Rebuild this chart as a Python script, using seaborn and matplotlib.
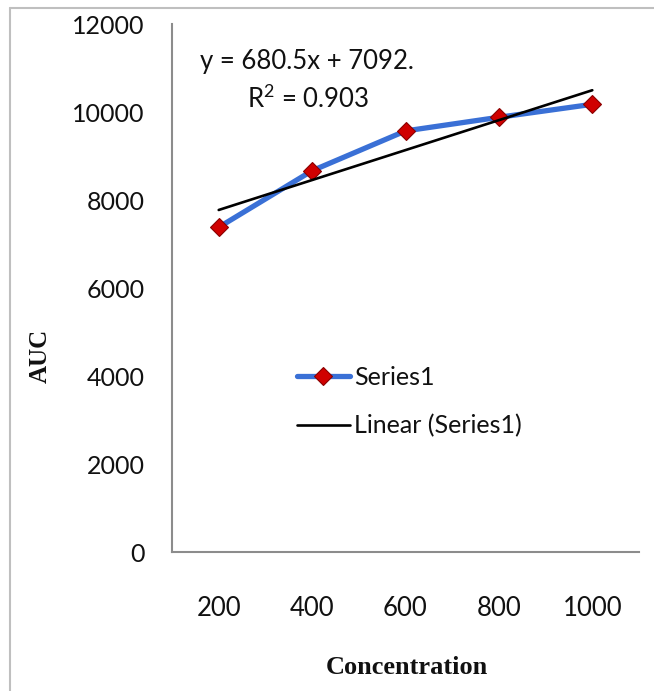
import numpy as np
import pandas as pd
import seaborn as sns
import matplotlib
matplotlib.use("Agg")
import matplotlib.pyplot as plt
from matplotlib.lines import Line2D
from matplotlib import font_manager

# Data
concentration = [200, 400, 600, 800, 1000]
auc = [7380, 8665, 9570, 9880, 10175]
y_ticks = [0, 2000, 4000, 6000, 8000, 10000, 12000]
series_name = "Series1"
trend_name = "Linear (Series1)"

df = pd.DataFrame({"Concentration": concentration, "AUC": auc})

# Linear trendline on the point index (1..n), spreadsheet style
idx = np.arange(1, len(auc) + 1)
slope, intercept = np.polyfit(idx, auc, 1)
fitted = slope * idx + intercept
ss_res = np.sum((np.array(auc) - fitted) ** 2)
ss_tot = np.sum((np.array(auc) - np.mean(auc)) ** 2)
r2 = 1 - ss_res / ss_tot

sns.set_style("white")
avail = {f.name for f in font_manager.fontManager.ttflist}
sans = "Lato" if "Lato" in avail else "DejaVu Sans"
plt.rcParams["font.family"] = [sans, "DejaVu Sans"]
plt.rcParams["mathtext.fontset"] = "custom"
plt.rcParams["mathtext.rm"] = sans

W, H = 654, 691
fig = plt.figure(figsize=(W / 100, H / 100), dpi=100)
fig.patch.set_facecolor("white")

left_px, right_px, top_px, bottom_px = 172, 639, 24, 552
ax = fig.add_axes([left_px / W, 1 - bottom_px / H,
                   (right_px - left_px) / W, (bottom_px - top_px) / H])

blue = "#3A70D6"
red = "#D00000"
txt = "#111111"

sns.lineplot(data=df, x="Concentration", y="AUC", ax=ax, color=blue,
             linewidth=3.8, marker="D", markersize=9,
             markerfacecolor=red, markeredgecolor="#8A0000",
             markeredgewidth=0.8, label=series_name, zorder=3)
sns.lineplot(x=concentration, y=fitted, ax=ax, color="black",
             linewidth=1.9, label=trend_name, zorder=4)

ax.set_xlim(100, 1100)
ax.set_ylim(0, 12000)
ax.set_xticks(concentration)
ax.set_xticklabels([str(c) for c in concentration])
ax.set_yticks(y_ticks)
ax.set_yticklabels([str(v) for v in y_ticks])

spine_col = "#8C8C8C"
for s in ["top", "right"]:
    ax.spines[s].set_visible(False)
for s in ["left", "bottom"]:
    ax.spines[s].set_color(spine_col)
    ax.spines[s].set_linewidth(1.5)

ax.tick_params(axis="y", direction="out", length=8.5, width=1.5,
               color=spine_col, labelsize=18, pad=11, labelcolor=txt)
ax.tick_params(axis="x", length=0, labelsize=18.5, pad=32, labelcolor=txt)
ax.grid(False)

serif = ["Liberation Serif", "DejaVu Serif"]
ax.set_xlabel("")
ax.set_ylabel("")
fig.text(407 / W, 1 - 668 / H, "Concentration", ha="center", va="center",
         fontsize=19, fontweight="bold", family=serif, color=txt)
fig.text(40 / W, 1 - 356 / H, "AUC", ha="center", va="center",
         rotation=90, fontsize=18, fontweight="bold", family=serif, color=txt)

# Trendline equation and R²
eq = f"y = {slope:.1f}x + {int(intercept)}."
fig.text(200 / W, 1 - 62 / H, eq, ha="left", va="center", fontsize=18.5,
         color=txt)
fig.text(247 / W, 1 - 99 / H, f"R$^2$ = {r2:.3f}", ha="left", va="center",
         fontsize=18.5, color=txt)

leg = ax.legend(loc="upper left", bbox_to_anchor=(297 / W, 1 - 366 / H),
                bbox_transform=fig.transFigure, frameon=False,
                fontsize=18, handlelength=2.1, handletextpad=0.2,
                labelspacing=1.0, borderpad=0, borderaxespad=0)
for t in leg.get_texts():
    t.set_color(txt)

# Outer chart-area border
border = "#BFBFBF"
fig.add_artist(Line2D([10 / W, 10 / W], [0, 1 - 8 / H], color=border,
                      linewidth=1.5, transform=fig.transFigure))
fig.add_artist(Line2D([10 / W, 1], [1 - 8 / H, 1 - 8 / H], color=border,
                      linewidth=1.5, transform=fig.transFigure))

fig.savefig("out.png", dpi=100, facecolor="white")
